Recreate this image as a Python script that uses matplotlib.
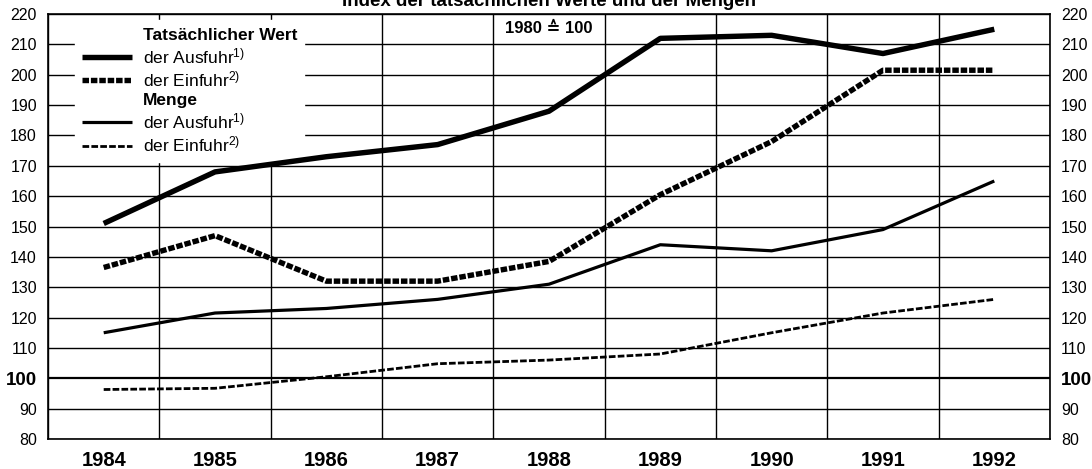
import matplotlib

matplotlib.use("Agg")
import matplotlib.pyplot as plt  # noqa: E402
from matplotlib.lines import Line2D  # noqa: E402
from matplotlib.ticker import MultipleLocator  # noqa: E402

plt.rcParams["font.family"] = ["Liberation Sans", "DejaVu Sans"]
plt.rcParams["mathtext.default"] = "regular"
plt.rcParams["mathtext.fontset"] = "custom"
plt.rcParams["mathtext.rm"] = "Liberation Sans"

years = ["1984", "1985", "1986", "1987", "1988", "1989", "1990", "1991", "1992"]
wert_ausfuhr = [151, 168, 173, 177, 188, 212, 213, 207, 215]
wert_einfuhr = [136.5, 147, 132, 132, 138.5, 160.5, 178, 201.5, 201.5]
menge_ausfuhr = [115, 121.5, 123, 126, 131, 144, 142, 149, 165]
menge_einfuhr = [96.3, 96.7, 100.5, 104.8, 106, 108, 115, 121.5, 126]
y_ticks = list(range(80, 221, 10))

THICK_DASH = (1.2, 0.35)
THIN_DASH = (2.4, 0.8)

fig = plt.figure(figsize=(10.92, 4.69), dpi=100)
ax = fig.add_axes([0.044, 0.064, 0.9175, 0.906])
x = range(len(years))

# data lines sit above the white legend box
ax.plot(x, wert_ausfuhr, color="black", lw=3.9, solid_joinstyle="round",
        solid_capstyle="butt", zorder=6)
ax.plot(x, wert_einfuhr, color="black", lw=3.9, dashes=THICK_DASH,
        dash_capstyle="butt", zorder=6)
ax.plot(x, menge_ausfuhr, color="black", lw=2.3, solid_joinstyle="round",
        solid_capstyle="butt", zorder=6)
ax.plot(x, menge_einfuhr, color="black", lw=2.0, dashes=THIN_DASH,
        dash_capstyle="butt", zorder=6)

ax.set_xlim(-0.5, len(years) - 0.5)
ax.set_ylim(80, 220)
ax.set_xticks(list(x))
ax.set_xticklabels(years, fontsize=14.5, fontweight="bold")
ax.xaxis.set_minor_locator(MultipleLocator(1, offset=0.5))
ax.set_yticks(y_ticks)
ax.set_yticklabels([str(v) for v in y_ticks])
ax.tick_params(axis="y", which="both", length=0, labelsize=11.5, pad=8,
               labelright=True, right=False)
ax.tick_params(axis="x", which="both", length=0, pad=9)
ax.grid(axis="y", color="black", lw=1.0, zorder=1)
ax.grid(axis="x", which="minor", color="black", lw=1.0, zorder=1)
ax.grid(axis="x", which="major", visible=False)
for tick in ax.yaxis.get_major_ticks():
    if tick.get_loc() == 100:
        tick.gridline.set_linewidth(1.6)
        for lab in (tick.label1, tick.label2):
            lab.set_fontweight("bold")
            lab.set_fontsize(13.5)
for sp in ax.spines.values():
    sp.set_linewidth(1.2)

# legend with bold group headings
blank = Line2D([], [], color="none")
handles = [
    blank,
    Line2D([], [], color="black", lw=3.9, solid_capstyle="butt"),
    Line2D([], [], color="black", lw=3.9, dashes=THICK_DASH),
    blank,
    Line2D([], [], color="black", lw=2.3, solid_capstyle="butt"),
    Line2D([], [], color="black", lw=2.0, dashes=THIN_DASH),
]
labels = [
    "Tatsächlicher Wert",
    r"der Ausfuhr$^{1)}$",
    r"der Einfuhr$^{2)}$",
    "Menge",
    r"der Ausfuhr$^{1)}$",
    r"der Einfuhr$^{2)}$",
]
leg = ax.legend(handles, labels, loc="upper left", bbox_to_anchor=(0.027, 0.985),
                fontsize=12.5, frameon=True, fancybox=False, framealpha=1,
                edgecolor="white", handlelength=2.9, handletextpad=0.6,
                labelspacing=0.2, borderpad=0.4, borderaxespad=0)
leg.set_zorder(5)
for i in (0, 3):
    leg.get_texts()[i].set_fontweight("bold")

ax.text(4, 215.3, "1980 ≙ 100", ha="center", va="center", fontsize=12,
        fontweight="bold", zorder=5,
        bbox=dict(facecolor="white", edgecolor="none", pad=1.5))

fig.text(0.503, 1 - 6 / 469, "Index der tatsächlichen Werte und der Mengen",
         ha="center", va="baseline", fontsize=13.5, fontweight="bold")

fig.savefig("out.png", dpi=100)
